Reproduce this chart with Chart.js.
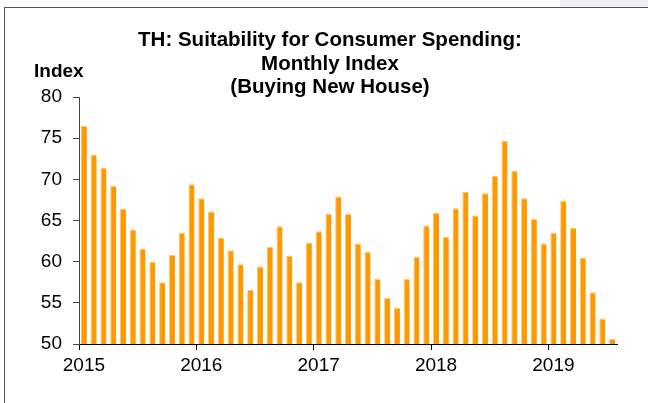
<!DOCTYPE html>
<html>
<head>
<meta charset="utf-8">
<script src="https://cdn.jsdelivr.net/npm/chart.js@4.4.1/dist/chart.umd.min.js"></script>
<style>
  body { margin: 0; background: #fff; }
  #wrap { position: relative; width: 648px; height: 403px; overflow: hidden; }
  #frame { position: absolute; left: 4px; top: 7px; right: 0; bottom: 0; border-left: 1px solid #555; border-top: 1px solid #555; }
  #corner { position: absolute; left: 560px; top: 0; width: 88px; height: 7px; background: #eeeef8; }
  canvas { position: absolute; left: 0; top: 0; }
</style>
</head>
<body>
<div id="wrap">
  <div id="corner"></div>
  <div id="frame"></div>
  <canvas id="myChart" width="648" height="403"></canvas>
</div>
<script>
// monthly index, Jan 2015 - Jul 2019
const years = ['2015', '2016', '2017', '2018', '2019'];
const values2015 = [76.5, 73.0, 71.4, 69.2, 66.4, 63.9, 61.6, 60.0, 57.5, 60.8, 63.5, 69.4];
const values2016 = [67.7, 66.1, 62.9, 61.4, 59.7, 56.6, 59.4, 61.8, 64.3, 60.7, 57.5, 62.3];
const values2017 = [63.7, 65.8, 67.9, 65.8, 62.2, 61.2, 57.9, 55.6, 54.4, 57.9, 60.6, 64.4];
const values2018 = [65.9, 63.0, 66.5, 68.5, 65.6, 68.3, 70.4, 74.7, 71.0, 67.7, 65.2, 62.2];
const values2019 = [63.5, 67.4, 64.1, 60.5, 56.3, 53.1, 50.6];
const yTicks = [50, 55, 60, 65, 70, 75, 80];
const titleLines = ['TH: Suitability for Consumer Spending:', 'Monthly Index', '(Buying New House)'];

const series = [values2015, values2016, values2017, values2018, values2019];
const labels = [];
const values = [];
series.forEach((arr, i) => {
  arr.forEach((v, m) => {
    labels.push(m === 0 ? years[i] : '');
    values.push(v);
  });
});

const FONT = '"Liberation Sans", Arial, sans-serif';

// title block and the "Index" caption above the y axis
const headerText = {
  id: 'headerText',
  afterDraw(chart) {
    const ctx = chart.ctx;
    ctx.save();
    ctx.fillStyle = '#000';
    ctx.textBaseline = 'alphabetic';
    ctx.font = 'bold 20.5px ' + FONT;
    ctx.textAlign = 'center';
    titleLines.forEach((line, i) => {
      ctx.fillText(line, 330, 46 + i * 23.5);
    });
    ctx.font = 'bold 19px ' + FONT;
    ctx.textAlign = 'left';
    ctx.fillText('Index', 34, 77);
    ctx.restore();
  },
};

const ctx = document.getElementById('myChart').getContext('2d');
const myChart = new Chart(ctx, {
  type: 'bar',
  data: {
    labels: labels,
    datasets: [
      {
        data: values,
        backgroundColor: '#FF9900',
        borderColor: '#FFC670',
        borderWidth: { top: 1, left: 1, right: 0, bottom: 0 },
        barPercentage: 0.62,
        categoryPercentage: 1,
      },
    ],
  },
  options: {
    responsive: false,
    animation: false,
    devicePixelRatio: 1,
    layout: { padding: { left: 0, right: 31, top: 97, bottom: 0 } },
    plugins: {
      legend: { display: false },
      tooltip: { enabled: false },
      title: { display: false },
    },
    scales: {
      x: {
        offset: true,
        afterFit: (s) => { s.height = 59; },
        grid: {
          offset: true,
          drawOnChartArea: false,
          tickLength: 6,
          color: (c) => (c.index < labels.length && labels[c.index] !== '' ? '#000' : 'rgba(0,0,0,0)'),
        },
        border: { display: true, color: '#000', width: 1 },
        ticks: {
          autoSkip: false,
          maxRotation: 0,
          padding: 4,
          color: '#000',
          font: { family: FONT, size: 19 },
        },
      },
      y: {
        min: 50,
        max: 80,
        afterFit: (s) => { s.width = 79; },
        afterBuildTicks: (s) => { s.ticks = yTicks.map((v) => ({ value: v })); },
        grid: { drawOnChartArea: false, tickLength: 6, color: '#444' },
        border: { display: true, color: '#444', width: 1 },
        ticks: {
          padding: 11,
          color: '#000',
          font: { family: FONT, size: 19 },
        },
      },
    },
  },
  plugins: [headerText],
});
</script>
</body>
</html>
